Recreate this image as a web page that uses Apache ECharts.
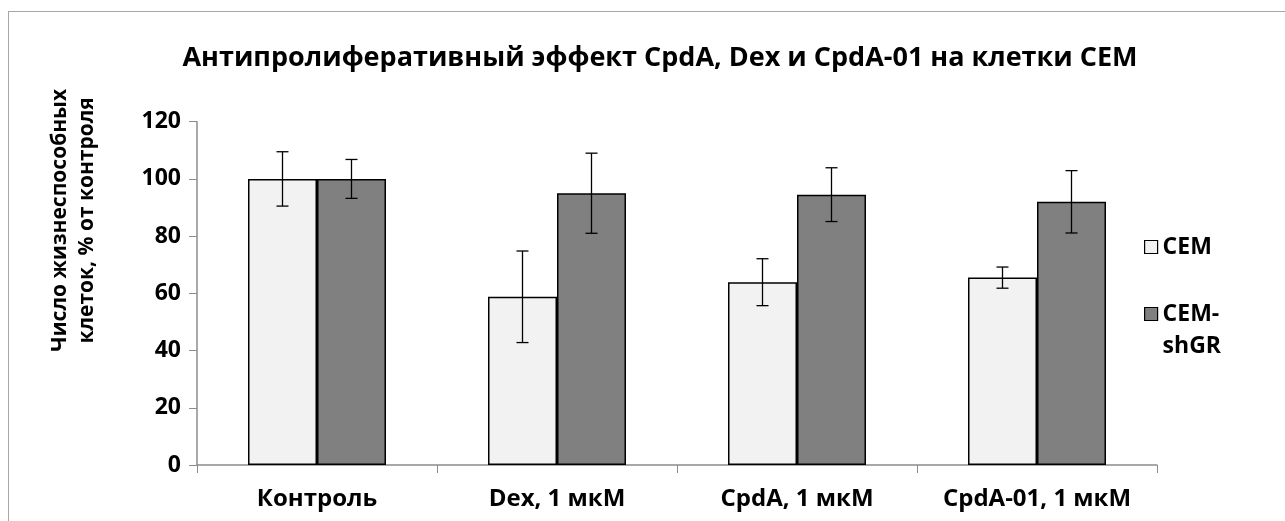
<!DOCTYPE html>
<html>
<head>
<meta charset="utf-8">
<script src="https://cdn.jsdelivr.net/npm/echarts@6/dist/echarts.min.js"></script>
<style>
    html, body { margin: 0; padding: 0; background: #ffffff; }
    #wrap { position: relative; width: 1285px; height: 521px; overflow: hidden; }
    #frame {
        position: absolute; left: 8px; top: 11px; width: 1300px; height: 540px;
        border-left: 1.5px solid #a6a6a6; border-top: 1.5px solid #a6a6a6;
    }
    #chart { position: absolute; left: 0; top: 0; width: 1285px; height: 521px; }
</style>
</head>
<body>
<div id="wrap">
    <div id="frame"></div>
    <div id="chart"></div>
</div>
<script>
    // данные
    var categories = ['Контроль', 'Dex, 1 мкМ', 'CpdA, 1 мкМ', 'CpdA-01, 1 мкМ'];
    var cemValues = [100, 58.8, 63.9, 65.5];
    var cemErrors = [9.5, 16, 8.2, 3.7];
    var shgrValues = [100, 95, 94.5, 92];
    var shgrErrors = [6.8, 14, 9.4, 10.9];
    var seriesNames = ['CEM', 'CEM-shGR'];

    var FONT = 'Open Sans';
    var catGap = 0.425; // barCategoryGap

    function errData(vals, errs) {
        var out = [];
        for (var i = 0; i < vals.length; i++) {
            out.push([i, vals[i] - errs[i], vals[i] + errs[i]]);
        }
        return out;
    }

    // усы погрешности, sign: -1 левый столбец, +1 правый
    function errorRender(sign) {
        return function (params, api) {
            var idx = api.value(0);
            var lo = api.coord([idx, api.value(1)]);
            var hi = api.coord([idx, api.value(2)]);
            var band = api.size([1, 0])[0];
            var bw = band * (1 - catGap) / 2;
            var x = lo[0] + sign * bw / 2;
            var cap = 6;
            var st = { stroke: '#000000', lineWidth: 1.3 };
            return {
                type: 'group',
                children: [
                    { type: 'line', shape: { x1: x, y1: hi[1], x2: x, y2: lo[1] }, style: st },
                    { type: 'line', shape: { x1: x - cap, y1: hi[1], x2: x + cap, y2: hi[1] }, style: st },
                    { type: 'line', shape: { x1: x - cap, y1: lo[1], x2: x + cap, y2: lo[1] }, style: st }
                ]
            };
        };
    }

    var chart = echarts.init(document.getElementById('chart'));
    var option = {
        animation: false,
        title: {
            text: 'Антипролиферативный эффект CpdA, Dex и CpdA-01 на клетки CEM',
            left: 655,
            textAlign: 'center',
            top: 40,
            textStyle: { fontFamily: FONT, fontWeight: 'bold', fontSize: 27, color: '#000000' }
        },
        legend: {
            orient: 'vertical',
            left: 1139,
            top: 226,
            icon: 'rect',
            itemWidth: 13,
            itemHeight: 13,
            itemGap: 3,
            itemStyle: { borderColor: '#000000', borderWidth: 1.2 },
            textStyle: { fontFamily: FONT, fontWeight: 'bold', fontSize: 23, color: '#000000', lineHeight: 32 },
            data: seriesNames,
            formatter: function (name) {
                // пустая первая строка, чтобы значок стоял против "CEM-"
                return name === 'CEM-shGR' ? '\u00a0\nCEM-\nshGR' : name;
            }
        },
        grid: { left: 197, right: 128, top: 121.7, bottom: 56 },
        xAxis: {
            type: 'category',
            data: categories,
            axisLine: { lineStyle: { color: '#8c8c8c', width: 1.5 } },
            axisTick: { show: true, length: 8, lineStyle: { color: '#8c8c8c' } },
            axisLabel: { interval: 0, hideOverlap: false, margin: 22, fontFamily: FONT, fontWeight: 'bold', fontSize: 24, color: '#000000' }
        },
        yAxis: {
            type: 'value',
            min: 0,
            max: 120,
            interval: 20,
            name: 'Число жизнеспособных\nклеток, % от контроля',
            nameLocation: 'middle',
            nameGap: 96,
            nameTextStyle: {
                fontFamily: FONT, fontWeight: 'bold', fontSize: 21, color: '#000000', lineHeight: 27,
                padding: [0, 0, 0, 146]
            },
            axisLine: { show: true, lineStyle: { color: '#8c8c8c', width: 1.5 } },
            axisTick: { show: true, length: 8, lineStyle: { color: '#8c8c8c' } },
            splitLine: { show: false },
            axisLabel: { margin: 16, fontFamily: FONT, fontWeight: 'bold', fontSize: 23, color: '#000000' }
        },
        series: [
            {
                name: seriesNames[0],
                type: 'bar',
                data: cemValues,
                barGap: '0%',
                barCategoryGap: (catGap * 100) + '%',
                itemStyle: { color: '#f2f2f2', borderColor: '#000000', borderWidth: 1.5 }
            },
            {
                name: seriesNames[1],
                type: 'bar',
                data: shgrValues,
                barGap: '0%',
                barCategoryGap: (catGap * 100) + '%',
                itemStyle: { color: '#808080', borderColor: '#000000', borderWidth: 1.5 }
            },
            {
                type: 'custom',
                renderItem: errorRender(-1),
                data: errData(cemValues, cemErrors),
                encode: { x: 0, y: [1, 2] },
                z: 5
            },
            {
                type: 'custom',
                renderItem: errorRender(1),
                data: errData(shgrValues, shgrErrors),
                encode: { x: 0, y: [1, 2] },
                z: 5
            }
        ]
    };
    chart.setOption(option);
</script>
</body>
</html>
